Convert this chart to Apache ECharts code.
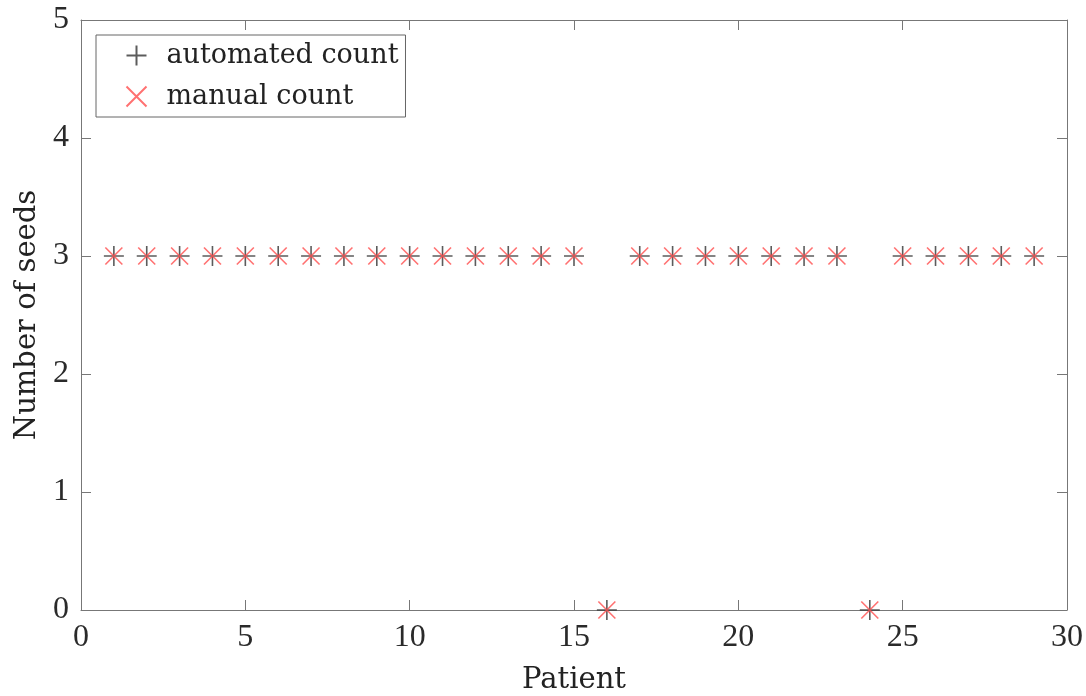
<!DOCTYPE html>
<html>
<head>
<meta charset="utf-8">
<script src="https://cdn.jsdelivr.net/npm/echarts@6/dist/echarts.min.js"></script>
<style>html,body{margin:0;padding:0;background:#fff;}#c{width:1086px;height:696px;}</style>
</head>
<body>
<div id="c"></div>
<script>
const patients = [1,2,3,4,5,6,7,8,9,10,11,12,13,14,15,16,17,18,19,20,21,22,23,24,25,26,27,28,29];
const automatedCount = [3,3,3,3,3,3,3,3,3,3,3,3,3,3,3,0,3,3,3,3,3,3,3,0,3,3,3,3,3];
const manualCount = [3,3,3,3,3,3,3,3,3,3,3,3,3,3,3,0,3,3,3,3,3,3,3,0,3,3,3,3,3];
const xTicks = [0,5,10,15,20,25,30];
const yTicks = [0,1,2,3,4,5];

const TEXT_FONT = 'DejaVu Serif';
const NUM_FONT = 'Liberation Serif';
const chart = echarts.init(document.getElementById('c'));
const axisLine = {show: true, onZero: false, lineStyle: {color: '#777', width: 1}};
const axisTick = {show: true, inside: true, length: 10, lineStyle: {color: '#777', width: 1}};
const plusPath = 'path://M0,-10 L0,10 M-10,0 L10,0';
const crossPath = 'path://M-10,-10 L10,10 M-10,10 L10,-10';
chart.setOption({
  animation: false,
  backgroundColor: '#fff',
  grid: {left: 81, right: 19, top: 20, bottom: 86, containLabel: false, outerBoundsMode: 'none'},
  legend: {
    orient: 'vertical', left: 96, top: 35,
    backgroundColor: '#fff', borderColor: '#666', borderWidth: 1,
    padding: [7, 7, 7, 28], itemGap: 14, itemWidth: 20, itemHeight: 20,
    textStyle: {fontFamily: TEXT_FONT, fontSize: 27, color: '#222', padding: [0,0,0,15]},
    data: ['automated count', 'manual count']
  },
  xAxis: [{
    type: 'value', min: 0, max: 30, interval: 5,
    name: 'Patient', nameLocation: 'middle', nameGap: 56,
    nameTextStyle: {fontFamily: TEXT_FONT, fontSize: 29, color: '#222'},
    axisLine, axisTick, splitLine: {show: false},
    axisLabel: {fontFamily: NUM_FONT, fontSize: 32, color: '#2a2a2a', margin: 12,
      formatter: v => xTicks.includes(v) ? String(v) : ''}
  }, {
    type: 'value', min: 0, max: 30, interval: 5, position: 'top',
    axisLine, axisTick, axisLabel: {show: false}, splitLine: {show: false}
  }],
  yAxis: [{
    type: 'value', min: 0, max: 5, interval: 1,
    name: 'Number of seeds', nameLocation: 'middle', nameGap: 32,
    nameTextStyle: {fontFamily: TEXT_FONT, fontSize: 29, color: '#222'},
    axisLine, axisTick, splitLine: {show: false},
    axisLabel: {fontFamily: NUM_FONT, fontSize: 32, color: '#2a2a2a', margin: 12,
      formatter: v => yTicks.includes(v) ? String(v) : ''}
  }, {
    type: 'value', min: 0, max: 5, interval: 1, position: 'right',
    axisLine, axisTick, axisLabel: {show: false}, splitLine: {show: false}
  }],
  series: [{
    name: 'automated count', type: 'scatter',
    symbol: plusPath, symbolSize: 20,
    itemStyle: {color: 'none', borderColor: '#333', borderWidth: 1.6},
    data: patients.map((p, i) => [p, automatedCount[i]]),
    z: 2
  }, {
    name: 'manual count', type: 'scatter',
    symbol: crossPath, symbolSize: 17,
    itemStyle: {color: 'none', borderColor: '#ff4d4d', borderWidth: 1.6},
    data: patients.map((p, i) => [p, manualCount[i]]),
    z: 3
  }]
});
</script>
</body>
</html>
